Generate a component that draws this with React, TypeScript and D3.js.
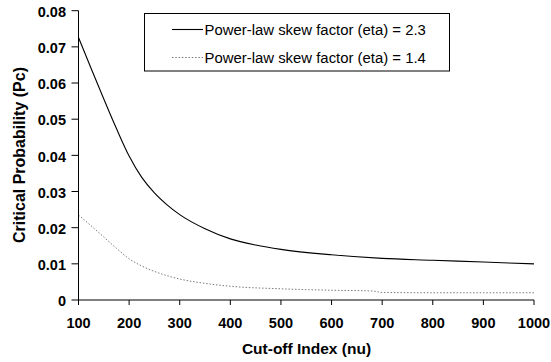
import React from 'react';
import * as d3 from 'd3';

// values
const nuSolid = [100, 125, 150, 175, 200, 225, 250, 275, 300, 350, 400, 450, 500, 600, 700, 800, 900, 1000];
const pcSolid = [0.0726, 0.064, 0.0556, 0.0474, 0.0398, 0.0339, 0.0296, 0.0263, 0.0236, 0.0197, 0.0169, 0.0152, 0.014, 0.0125, 0.0115, 0.011, 0.0105, 0.01];

const nuDotted = [100, 125, 150, 175, 200, 225, 250, 300, 350, 400, 500, 600, 680, 700, 800, 900, 1000];
const pcDotted = [0.0235, 0.0205, 0.0174, 0.0143, 0.0114, 0.0094, 0.0079, 0.0058, 0.0046, 0.0038, 0.0031, 0.0027, 0.0025, 0.0021, 0.002, 0.002, 0.002];

const seriesLabels = ['Power-law skew factor (eta) = 2.3', 'Power-law skew factor (eta) = 1.4'];
const xTicks = [100, 200, 300, 400, 500, 600, 700, 800, 900, 1000];
const yTicks = [0, 0.01, 0.02, 0.03, 0.04, 0.05, 0.06, 0.07, 0.08];

const W = 551;
const H = 362;
const FONT = "Arial, 'Liberation Sans', sans-serif";

export default function App() {
  const x = d3.scaleLinear().domain([100, 1000]).range([78.5, 534]);
  const y = d3.scaleLinear().domain([0, 0.08]).range([300, 10.7]);

  const line = d3.line<[number, number]>()
    .x(d => x(d[0]))
    .y(d => y(d[1]))
    .curve(d3.curveMonotoneX);

  const solidPts = nuSolid.map((n, i) => [n, pcSolid[i]] as [number, number]);
  const dottedPts = nuDotted.map((n, i) => [n, pcDotted[i]] as [number, number]);

  const fmt = (d: number) => (d === 0 ? '0' : d3.format('.2f')(d));

  return (
    <svg width={W} height={H} style={{ position: 'absolute', left: 0, top: 0, background: '#fff' }} fontFamily={FONT}>
      <rect width={W} height={H} fill="#fff" />

      {/* series */}
      <path d={line(dottedPts) || ''} fill="none" stroke="#7a7a7a" strokeWidth={1} strokeDasharray="1.5,1.8" />
      <path d={line(solidPts) || ''} fill="none" stroke="#000" strokeWidth={1.1} />

      {/* y axis */}
      <line x1={x(100)} x2={x(100)} y1={y(0.08)} y2={y(0)} stroke="#000" />
      {yTicks.map(t => (
        <g key={t}>
          <line x1={x(100) - 7} x2={x(100)} y1={y(t)} y2={y(t)} stroke="#000" />
          <text x={66} y={y(t) + 1.2} dy="0.35em" textAnchor="end" fontSize={14.5} fontWeight="bold">{fmt(t)}</text>
        </g>
      ))}

      {/* x axis */}
      <line x1={x(100)} x2={x(1000)} y1={y(0)} y2={y(0)} stroke="#000" />
      {xTicks.map(t => (
        <g key={t}>
          <line x1={x(t)} x2={x(t)} y1={y(0)} y2={y(0) + 5} stroke="#000" />
          <text x={x(t)} y={328} textAnchor="middle" fontSize={14.5} fontWeight="bold">{t}</text>
        </g>
      ))}

      {/* axis titles */}
      <text x={306.5} y={354} textAnchor="middle" fontSize={15.5} fontWeight="bold">Cut-off Index (nu)</text>
      <text transform="translate(25,155) rotate(-90)" textAnchor="middle" fontSize={16} fontWeight="bold">Critical Probability (Pc)</text>

      {/* legend */}
      <rect x={144.5} y={13.5} width={305} height={57.5} fill="#fff" stroke="#000" />
      <line x1={172} x2={203} y1={29.5} y2={29.5} stroke="#000" strokeWidth={1.1} />
      <line x1={172} x2={203} y1={57.5} y2={57.5} stroke="#7a7a7a" strokeDasharray="1.5,1.8" />
      <text x={204.5} y={34.5} fontSize={14.9}>{seriesLabels[0]}</text>
      <text x={204.5} y={62.5} fontSize={14.9}>{seriesLabels[1]}</text>
    </svg>
  );
}
